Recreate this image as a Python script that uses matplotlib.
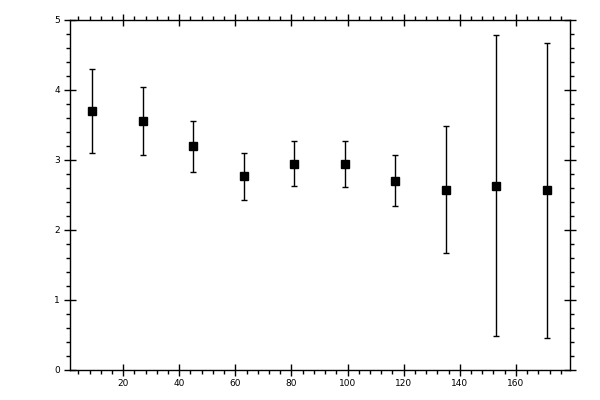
import numpy as np
import matplotlib
matplotlib.use('Agg')
import matplotlib.pyplot as plt
from matplotlib.ticker import MultipleLocator

# Data
x_vals = np.array([9, 27, 45, 63, 81, 99, 117, 135, 153, 171])
y_vals = np.array([3.69, 3.55, 3.19, 2.76, 2.94, 2.94, 2.70, 2.57, 2.63, 2.56])
y_err = np.array([0.60, 0.49, 0.365, 0.33, 0.32, 0.33, 0.36, 0.905, 2.15, 2.11])

fig = plt.figure(figsize=(6, 4), dpi=100)
ax = fig.add_axes([0.116, 0.0758, 0.834, 0.875])

ax.errorbar(x_vals, y_vals, yerr=y_err, fmt='s', color='black', ecolor='black',
            markersize=5.2, elinewidth=1, capsize=2.2, capthick=1)

ax.set_xlim(0.9, 179.3)
ax.set_ylim(0, 5)
ax.xaxis.set_minor_locator(MultipleLocator(4))
ax.yaxis.set_major_locator(MultipleLocator(1))
ax.yaxis.set_minor_locator(MultipleLocator(0.2))

# x tick labels start at 20
ax.set_xticks(np.arange(20, 180, 20))
ax.set_xticklabels([str(v) for v in range(20, 180, 20)])

for s in ax.spines.values():
    s.set_linewidth(1)
ax.tick_params(which='major', direction='inout', length=8, width=1,
               top=True, right=True, labelsize=6.5, pad=3)
ax.tick_params(which='minor', direction='out', length=3.2, width=1,
               top=True, right=True)

fig.savefig('out.png', dpi=100)
